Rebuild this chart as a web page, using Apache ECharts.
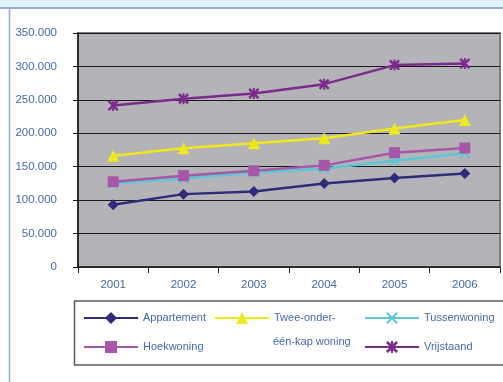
<!DOCTYPE html>
<html>
<head>
<meta charset="utf-8">
<script src="https://cdn.jsdelivr.net/npm/echarts@6/dist/echarts.min.js"></script>
<style>
  html, body { margin: 0; padding: 0; background: #ffffff; }
  #chart { width: 503px; height: 382px; }
</style>
</head>
<body>
<div id="chart"></div>
<script>
// Years on the category axis
const years = ['2001', '2002', '2003', '2004', '2005', '2006'];

// Average house price per dwelling type (euro)
const appartement = [93000, 109000, 113000, 125000, 133000, 140000];
const tweeOnderEenKap = [166500, 177500, 185000, 192500, 207000, 220000];
const tussenwoning = [125000, 132500, 141500, 147500, 159000, 170000];
const hoekwoning = [127500, 136500, 144000, 152000, 171000, 178000];
const vrijstaand = [241500, 251500, 259500, 273500, 302000, 304500];

// Value axis ticks
const yTicks = { min: 0, max: 350000, step: 50000 };

const names = ['Appartement', 'Twee-onder-één-kap woning', 'Tussenwoning', 'Hoekwoning', 'Vrijstaand'];
const colors = ['#2f2b7a', '#eee81c', '#5ac6d6', '#a856a8', '#7b2b8c'];

// Cross and asterisk markers as filled outlines
const crossPath = 'path://M0,1.2 L1.2,0 L10,8.8 L8.8,10 Z M8.8,0 L10,1.2 L1.2,10 L0,8.8 Z';
const starPath = 'path://M0,1.6 L1.6,0 L10,8.4 L8.4,10 Z M8.4,0 L10,1.6 L1.6,10 L0,8.4 Z M4.1,0 L5.9,0 L5.9,10 L4.1,10 Z';

const fmt = v => v === 0 ? '0' : String(v).replace(/\B(?=(\d{3})+(?!\d))/g, '.');

const textBlue = '#4468a6';
const font = '"Liberation Sans", Arial, sans-serif';

function line(name, data, color, symbol, size) {
  return {
    name, type: 'line', data, symbol, symbolSize: size,
    lineStyle: { color, width: 2.5 },
    itemStyle: { color },
    emphasis: { disabled: true },
    animation: false,
    z: 3
  };
}

function legendAt(name, left, top, text) {
  return {
    data: [name],
    left, top,
    padding: 0,
    orient: 'horizontal',
    itemWidth: 54, itemHeight: 15,
    itemGap: 0,
    formatter: () => text,
    textStyle: { color: textBlue, fontSize: 11, fontFamily: font },
    selectedMode: false
  };
}

const chart = echarts.init(document.getElementById('chart'), null, { renderer: 'canvas' });
chart.setOption({
  backgroundColor: '#ffffff',
  animation: false,
  grid: {
    left: 78, top: 33, right: 3, bottom: 115,
    show: true, backgroundColor: '#b4b4b8', borderColor: '#7d7d7d', borderWidth: 2
  },
  xAxis: {
    type: 'category', data: years, boundaryGap: true,
    axisLine: { lineStyle: { color: '#222', width: 1.5 } },
    axisTick: { show: true, length: 6, inside: false, lineStyle: { color: '#222' } },
    axisLabel: { color: textBlue, fontSize: 11.5, fontFamily: font, margin: 12 }
  },
  yAxis: {
    type: 'value', min: yTicks.min, max: yTicks.max, interval: yTicks.step,
    axisLine: { show: true, lineStyle: { color: '#111', width: 1.5 } },
    axisTick: { show: true, length: 5, lineStyle: { color: '#111' } },
    splitLine: { show: true, lineStyle: { color: '#1a1a1a', width: 1 } },
    axisLabel: { color: textBlue, fontSize: 11.5, fontFamily: font, margin: 21, formatter: fmt }
  },
  legend: [
    legendAt(names[0], 83, 312, 'Appartement'),
    legendAt(names[1], 214, 312, 'Twee-onder-'),
    legendAt(names[2], 364, 312, 'Tussenwoning'),
    legendAt(names[3], 83, 341, 'Hoekwoning'),
    legendAt(names[4], 364, 341, 'Vrijstaand')
  ],
  graphic: [
    { type: 'rect', shape: { x: 0, y: 0, width: 503, height: 7 }, style: { fill: '#e4f3fb' }, silent: true },
    { type: 'line', shape: { x1: 0, y1: 8, x2: 503, y2: 8 }, style: { stroke: '#95acd6', lineWidth: 2 }, silent: true },
    { type: 'line', shape: { x1: 9.5, y1: 8, x2: 9.5, y2: 382 }, style: { stroke: '#95acd6', lineWidth: 1.5 }, silent: true },
    { type: 'rect', shape: { x: 74.5, y: 301, width: 440, height: 64 }, style: { fill: 'none', stroke: '#5a5a5a', lineWidth: 1.5 }, silent: true },
    { type: 'text', x: 273, y: 336, style: { text: 'één-kap woning', fill: textBlue, fontSize: 11, fontFamily: font }, silent: true }
  ],
  series: [
    line(names[0], appartement, colors[0], 'diamond', 11),
    line(names[1], tweeOnderEenKap, colors[1], 'triangle', 12),
    line(names[2], tussenwoning, colors[2], crossPath, 11),
    line(names[3], hoekwoning, colors[3], 'rect', 11),
    line(names[4], vrijstaand, colors[4], starPath, 11)
  ]
});
</script>
</body>
</html>
